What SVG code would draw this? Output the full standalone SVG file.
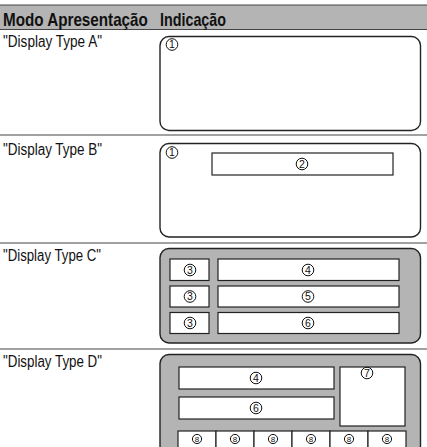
<svg xmlns="http://www.w3.org/2000/svg" width="427" height="447" viewBox="0 0 427 447">
<style>
.hdr{font-family:"Liberation Sans",Arial,sans-serif;font-weight:bold;font-size:18px;fill:#111}
.lbl{font-family:"Liberation Sans",Arial,sans-serif;font-size:16px;fill:#111}
.num{font-family:"Liberation Sans",Arial,sans-serif;font-size:10.5px;fill:#111;text-anchor:middle}
.num8{font-family:"Liberation Sans",Arial,sans-serif;font-size:8px;fill:#111;text-anchor:middle}
.circ{fill:none;stroke:#111;stroke-width:1}
.disp{fill:#fff;stroke:#222;stroke-width:1.4}
.dispg{fill:#b4b4b4;stroke:#222;stroke-width:1.4}
.inner{fill:#fff;stroke:#222;stroke-width:1.2}
.sep{stroke:#444;stroke-width:1}
</style>
<g id="header">
<rect x="0" y="5" width="427" height="24.5" fill="#b4b4b4"/>
<line x1="0" y1="5" x2="427" y2="5" stroke="#444" stroke-width="1.2"/>
<line x1="0" y1="29.5" x2="427" y2="29.5" stroke="#444" stroke-width="1.2"/>
<text class="hdr" transform="translate(3,25.5) scale(0.8,1)" x="0" y="0" textLength="181" lengthAdjust="spacingAndGlyphs">Modo Apresentação</text>
<text class="hdr" transform="translate(160,25.5) scale(0.8,1)" x="0" y="0" textLength="82.5" lengthAdjust="spacingAndGlyphs">Indicação</text>
</g>
<g id="separators">
<line class="sep" x1="0" y1="135" x2="427" y2="135"/>
<line class="sep" x1="0" y1="243" x2="427" y2="243"/>
<line class="sep" x1="0" y1="349" x2="427" y2="349"/>
</g>
<g id="rowA">
<text class="lbl" x="3" y="46.5" textLength="99" lengthAdjust="spacingAndGlyphs">"Display Type A"</text>
<rect class="disp" x="160" y="36.5" width="260.5" height="94" rx="9"/>
<circle class="circ" cx="172" cy="44.5" r="5.8"/><text class="num" x="172" y="48.3">1</text>
</g>
<g id="rowB">
<text class="lbl" x="3" y="154.5" textLength="99" lengthAdjust="spacingAndGlyphs">"Display Type B"</text>
<rect class="disp" x="160" y="143.5" width="260.5" height="93.5" rx="9"/>
<circle class="circ" cx="172" cy="152.5" r="5.8"/><text class="num" x="172" y="156.3">1</text>
<rect class="inner" x="212" y="153" width="181" height="22"/>
<circle class="circ" cx="302" cy="164" r="5.8"/><text class="num" x="302" y="167.8">2</text>
</g>
<g id="rowC">
<text class="lbl" x="3" y="261" textLength="98" lengthAdjust="spacingAndGlyphs">"Display Type C"</text>
<rect class="dispg" x="160" y="248.5" width="260.5" height="94.5" rx="9"/>
<rect class="inner" x="170" y="259" width="39" height="21.5"/>
<rect class="inner" x="218" y="259" width="181" height="21.5"/>
<rect class="inner" x="170" y="286" width="39" height="21"/>
<rect class="inner" x="218" y="286" width="181" height="21"/>
<rect class="inner" x="170" y="312.5" width="39" height="21"/>
<rect class="inner" x="218" y="312.5" width="181" height="21"/>
<circle class="circ" cx="190" cy="270" r="5.8"/><text class="num" x="190" y="273.8">3</text>
<circle class="circ" cx="308" cy="270" r="5.8"/><text class="num" x="308" y="273.8">4</text>
<circle class="circ" cx="190" cy="296.5" r="5.8"/><text class="num" x="190" y="300.3">3</text>
<circle class="circ" cx="308" cy="296.5" r="5.8"/><text class="num" x="308" y="300.3">5</text>
<circle class="circ" cx="190" cy="323" r="5.8"/><text class="num" x="190" y="326.8">3</text>
<circle class="circ" cx="308" cy="323" r="5.8"/><text class="num" x="308" y="326.8">6</text>
</g>
<g id="rowD">
<text class="lbl" x="3" y="367" textLength="99" lengthAdjust="spacingAndGlyphs">"Display Type D"</text>
<rect class="dispg" x="160" y="354.5" width="260.5" height="100" rx="9"/>
<rect class="inner" x="179" y="367" width="155" height="22"/>
<rect class="inner" x="179" y="397" width="155" height="22"/>
<rect class="inner" x="340" y="367" width="65" height="59"/>
<circle class="circ" cx="256" cy="378" r="5.8"/><text class="num" x="256" y="381.8">4</text>
<circle class="circ" cx="256" cy="408" r="5.8"/><text class="num" x="256" y="411.8">6</text>
<circle class="circ" cx="367" cy="373" r="5.8"/><text class="num" x="367" y="376.8">7</text>
<rect class="inner" x="178" y="431" width="38" height="20"/>
<rect class="inner" x="216" y="431" width="38" height="20"/>
<rect class="inner" x="254" y="431" width="38" height="20"/>
<rect class="inner" x="292" y="431" width="38" height="20"/>
<rect class="inner" x="330" y="431" width="38" height="20"/>
<rect class="inner" x="368" y="431" width="38" height="20"/>
<circle class="circ" cx="197" cy="439" r="4.6"/><text class="num8" x="197" y="441.9">8</text>
<circle class="circ" cx="235" cy="439" r="4.6"/><text class="num8" x="235" y="441.9">8</text>
<circle class="circ" cx="273" cy="439" r="4.6"/><text class="num8" x="273" y="441.9">8</text>
<circle class="circ" cx="311" cy="439" r="4.6"/><text class="num8" x="311" y="441.9">8</text>
<circle class="circ" cx="349" cy="439" r="4.6"/><text class="num8" x="349" y="441.9">8</text>
<circle class="circ" cx="387" cy="439" r="4.6"/><text class="num8" x="387" y="441.9">8</text>
</g>
</svg>
